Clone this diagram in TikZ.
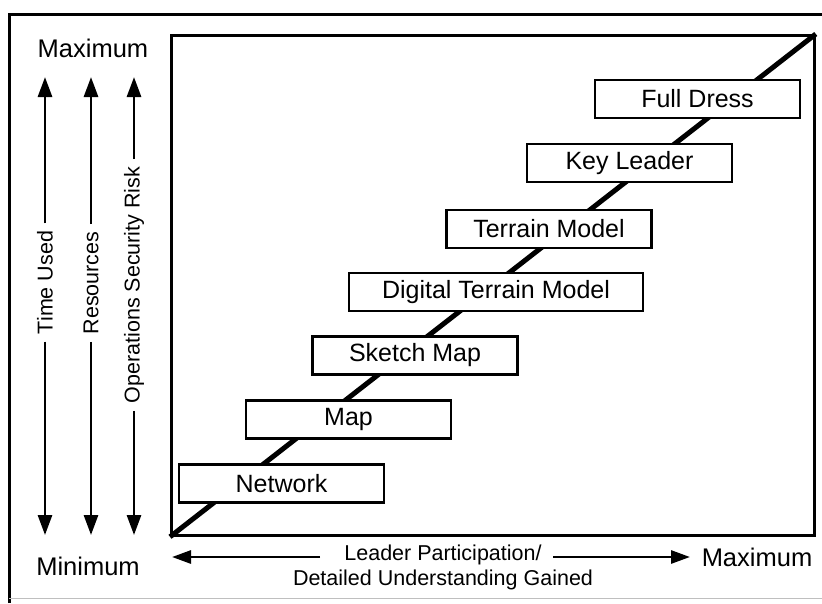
\documentclass[tikz,border=0pt]{standalone}
\usepackage{fontspec}
\setmainfont{Liberation Sans}
\usetikzlibrary{arrows.meta}
\begin{document}
\begin{tikzpicture}[x=1pt,y=-1pt,
  stage/.style={draw,line width=2.4pt,fill=white,minimum width=205pt,minimum height=38pt,inner sep=0pt,font=\fontsize{25}{28}\selectfont},
  endlabel/.style={inner sep=0pt,font=\fontsize{25.5}{28}\selectfont},
  vlabel/.style={rotate=90,inner sep=0pt,outer sep=7.5pt,font=\fontsize{21.5}{24}\selectfont},
  hlabel/.style={inner sep=0pt,font=\fontsize{21.5}{24}\selectfont},
  axis/.style={line width=2.8pt,-{Triangle[length=20pt,width=14pt]}},
  haxis/.style={line width=2.8pt,-{Triangle[length=19pt,width=13pt]}}]
\useasboundingbox (0,0) rectangle (822,603);
% outer frame (cropped)
\draw[line width=3pt] (9,603) -- (9,14) -- (822,14);
\draw[line width=0.8pt,black!25] (9,598) -- (822,598);
% inner box
\node[draw,line width=2.8pt,minimum width=643pt,minimum height=500pt,inner sep=0pt,anchor=north west] (frame) at (170,34) {};
\draw[line width=5pt] (frame.south west) -- (frame.north east);
% stages
\node[stage] (net) at (281.5,483.5) {Network};
\node[stage] (map) at (348.5,419.5) {Map};
\node[stage] (sk) at (415,355.5) {Sketch Map};
\node[stage,minimum width=294pt] (dtm) at (496,292) {Digital Terrain Model};
\node[stage] (tm) at (549,229) {Terrain Model};
\node[stage] (kl) at (629.5,163) {Key Leader};
\node[stage] (fd) at (697.5,99) {Full Dress};
% end labels
\node[endlabel] (max1) at (93,48) {Maximum};
\node[endlabel] (min1) at (88,566) {Minimum};
\node[endlabel] (max2) at (757,557) {Maximum};
% vertical axes
\node[vlabel] (tu) at (45,282.5) {Time Used};
\node[vlabel] (rs) at (91,283) {Resources};
\node[vlabel] (osr) at (134,285) {Operations Security Risk};
\coordinate (tuT) at (45,77); \coordinate (tuB) at (45,535);
\coordinate (rsT) at (91,77); \coordinate (rsB) at (91,535);
\coordinate (osT) at (134,77); \coordinate (osB) at (134,535);
\draw[axis] (tu.east) -- (tuT);
\draw[axis] (tu.west) -- (tuB);
\draw[axis] (rs.east) -- (rsT);
\draw[axis] (rs.west) -- (rsB);
\draw[axis] (osr.east) -- (osT);
\draw[axis] (osr.west) -- (osB);
% bottom axis
\node[hlabel] (lp1) at (443,555) {Leader Participation/};
\node[hlabel] (lp2) at (443,580) {Detailed Understanding Gained};
\coordinate (hl) at (172,557); \coordinate (hr) at (690,557);
\coordinate (hls) at (320,557); \coordinate (hrs) at (553,557);
\draw[haxis] (hls) -- (hl);
\draw[haxis] (hrs) -- (hr);
\end{tikzpicture}
\end{document}
